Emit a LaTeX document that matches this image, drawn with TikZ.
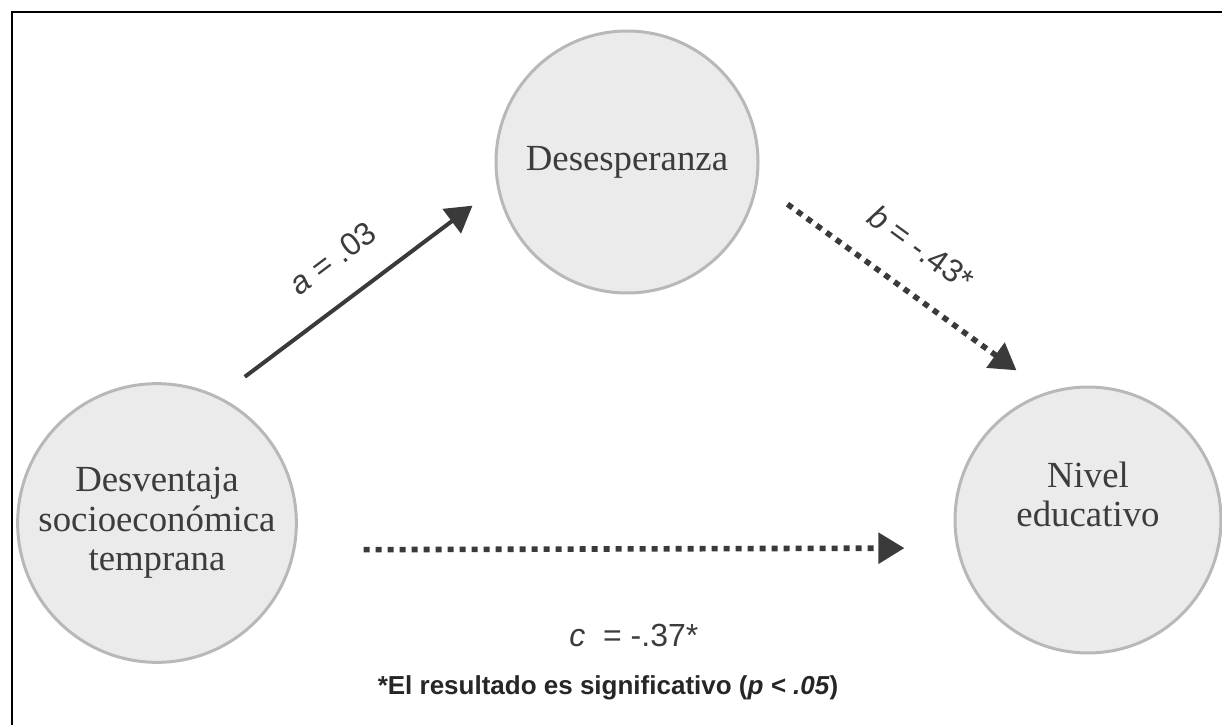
\documentclass[tikz,border=0pt]{standalone}
\usepackage{fontspec}
\setmainfont{Liberation Serif}
\setsansfont{Liberation Sans}
\usetikzlibrary{arrows.meta}

\definecolor{varfill}{HTML}{EBEBEB}
\definecolor{varline}{HTML}{B8B8B8}
\definecolor{arrowgray}{HTML}{3A3A3A}
\definecolor{textgray}{HTML}{3C3C3C}

\begin{document}
\begin{tikzpicture}[x=0.5pt, y=0.5pt,
    line/.style={draw=arrowgray, line width=2pt, -{Triangle[length=13pt,width=15pt]}},
    dotline/.style={line, line width=2.8pt, dash pattern=on 3pt off 3pt},
    var/.style={circle, draw=varline, fill=varfill, line width=1.5pt, minimum size=133pt,
      align=center, text=textgray, font=\fontsize{18.4}{19.8}\selectfont},
    coef/.style={font=\sffamily\fontsize{16}{18}\selectfont, text=textgray},
    ]
    \useasboundingbox (0,0) rectangle (1222,725);
    \draw[line width=1.4pt] (12,0) -- (12,713) -- (1222,713); % frame

    % Place nodes
    \node [var] (desv) at (157,202) {Desventaja\\socioeconómica\\temprana};
    \node [var, minimum size=131pt] (desp) at (627,563) {Desesperanza};
    \node [var] (nivel) at (1088,205) {Nivel\\educativo\\[6pt]};

    % Draw edges
    \draw [line, shorten <=16.3pt, shorten >=15.3pt] (desv.64) -- node [coef, sloped, above=11pt] {\textit{a} = .03} (desp.191);
    \draw [dotline, shorten <=18.3pt, shorten >=18.5pt] (desp.351) -- node [coef, sloped, above=11pt, xshift=-4pt] {\textit{b} = -.43*} (nivel.108);
    \draw [dotline, shorten <=34.2pt, shorten >=26pt] (desv.349) -- node [coef, below=33pt, xshift=4pt] {\textit{c}\ \ = -.37*} (nivel.192);

    \node [font=\sffamily\bfseries\fontsize{13}{15}\selectfont, text=black!85] (note) at (608,37) {*El resultado es significativo (\textit{p < .05})};
\end{tikzpicture}
\end{document}
